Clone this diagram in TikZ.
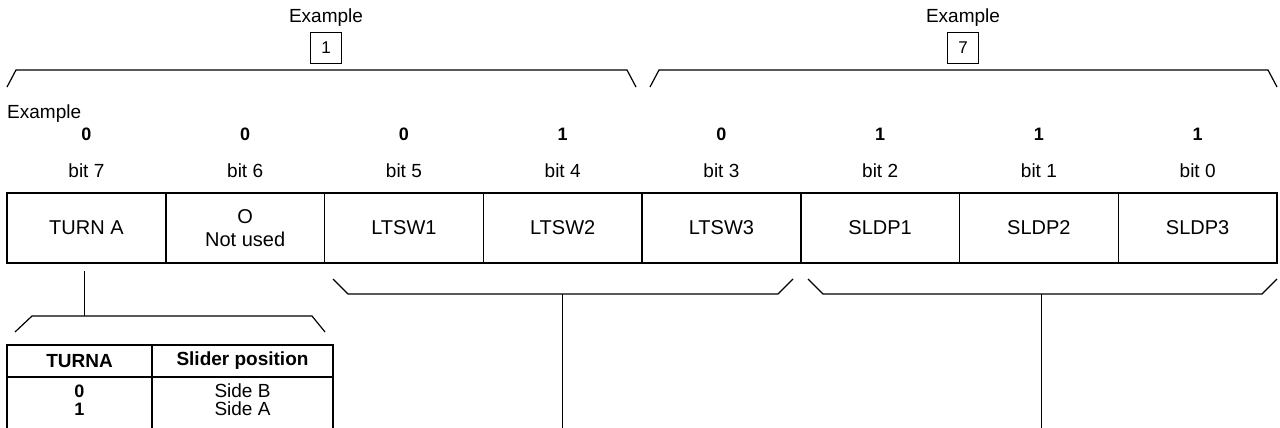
\documentclass[tikz,border=0pt]{standalone}
\usepackage{fontspec}
\setmainfont{Liberation Sans}
\usetikzlibrary{positioning,calc}

\begin{document}
\begin{tikzpicture}[x=1pt,y=-1pt,
  cell/.style={draw,line width=1.5pt,outer sep=0pt,inner sep=0pt,
               minimum width=158.75pt,minimum height=70pt,align=center,
               font=\fontsize{20}{23}\selectfont},
  bitlbl/.style={font=\fontsize{19}{21}\selectfont},
  bitval/.style={font=\fontsize{18}{20}\selectfont\bfseries},
  numbox/.style={draw,line width=1.7pt,minimum size=31pt,inner sep=0pt,
                 font=\fontsize{17}{19}\selectfont},
  brace/.style={line width=1.2pt},
  conn/.style={line width=1pt},
  thcell/.style={draw,line width=1.2pt,outer sep=0pt,inner sep=0pt,
                 minimum height=32pt,font=\fontsize{19}{21}\selectfont\bfseries},
  tbtext/.style={inner sep=2pt,text height=12pt,text depth=2pt,
                 font=\fontsize{18}{20}\selectfont}]
\useasboundingbox (0,0) rectangle (1280,428);
\clip (0,0) rectangle (1280,428);
% register cells
\node[cell] (b7) at (86.4,228) {TURN A};
\node[cell,right=0pt of b7] (b6) {O\\Not used};
\node[cell,right=0pt of b6] (b5) {LTSW1};
\node[cell,right=0pt of b5] (b4) {LTSW2};
\node[cell,right=0pt of b4] (b3) {LTSW3};
\node[cell,right=0pt of b3] (b2) {SLDP1};
\node[cell,right=0pt of b2] (b1) {SLDP2};
\node[cell,right=0pt of b1] (b0) {SLDP3};
% bit labels and example values
\node[bitlbl,above=12pt of b7] (l7) {bit 7};
\node[bitlbl,above=12pt of b6] (l6) {bit 6};
\node[bitlbl,above=12pt of b5] (l5) {bit 5};
\node[bitlbl,above=12pt of b4] (l4) {bit 4};
\node[bitlbl,above=12pt of b3] (l3) {bit 3};
\node[bitlbl,above=12pt of b2] (l2) {bit 2};
\node[bitlbl,above=12pt of b1] (l1) {bit 1};
\node[bitlbl,above=12pt of b0] (l0) {bit 0};
\node[bitval,above=16pt of l7] (v7) {0};
\node[bitval,above=16pt of l6] (v6) {0};
\node[bitval,above=16pt of l5] (v5) {0};
\node[bitval,above=16pt of l4] (v4) {1};
\node[bitval,above=16pt of l3] (v3) {0};
\node[bitval,above=16pt of l2] (v2) {1};
\node[bitval,above=16pt of l1] (v1) {1};
\node[bitval,above=16pt of l0] (v0) {1};
\node[bitlbl,anchor=base west,inner sep=0pt] (exrow) at (7,118) {Example};
% upper braces with example values
\node[numbox] (hi) at (326,48) {1};
\node[bitlbl,above=2pt of hi] (exhi) {Example};
\node[numbox] (lo) at (963,48) {7};
\node[bitlbl,above=2pt of lo] (exlo) {Example};
\draw[brace] (7,87)--(16,70)--(627,70)--(636,87);
\draw[brace] (650,87)--(659,70)--(1268,70)--(1277,87);
% lower braces
\coordinate (tipsw) at (562.5,294);
\coordinate (tipsl) at (1041,294);
\draw[brace] (333,279)--(348,294)--(778,294)--(793,279);
\draw[brace] (808,279)--(823,294)--(1262,294)--(1277,279);
\coordinate (endsw) at (562.5,440);
\coordinate (endsl) at (1041,440);
\draw[conn] (tipsw)--(endsw);
\draw[conn] (tipsl)--(endsl);
% TURNA table
\coordinate (tipturn) at (84,316);
\draw[brace] (15,332)--(32,316)--(312,316)--(325,332);
\draw[conn] ([yshift=-8pt,xshift=-2.4pt]b7.south)--(tipturn);
\node[thcell,minimum width=145pt,anchor=north west] (hturn) at (7,345) {TURNA};
\node[thcell,minimum width=181pt,right=0pt of hturn] (hslide) {Slider position};
\draw[line width=1.2pt] (hturn.south west)--++(0,80);
\draw[line width=1.2pt] (hturn.south east)--++(0,80);
\draw[line width=1.2pt] (hslide.south east)--++(0,80);
\node[tbtext,below=6pt of hturn,font=\fontsize{18}{20}\selectfont\bfseries] (t0) {0};
\node[tbtext,below=0pt of t0,font=\fontsize{18}{20}\selectfont\bfseries] (t1) {1};
\node[tbtext,below=6pt of hslide,font=\fontsize{19}{21}\selectfont] (s0) {Side B};
\node[tbtext,below=0pt of s0,font=\fontsize{19}{21}\selectfont] (s1) {Side A};
\end{tikzpicture}
\end{document}
